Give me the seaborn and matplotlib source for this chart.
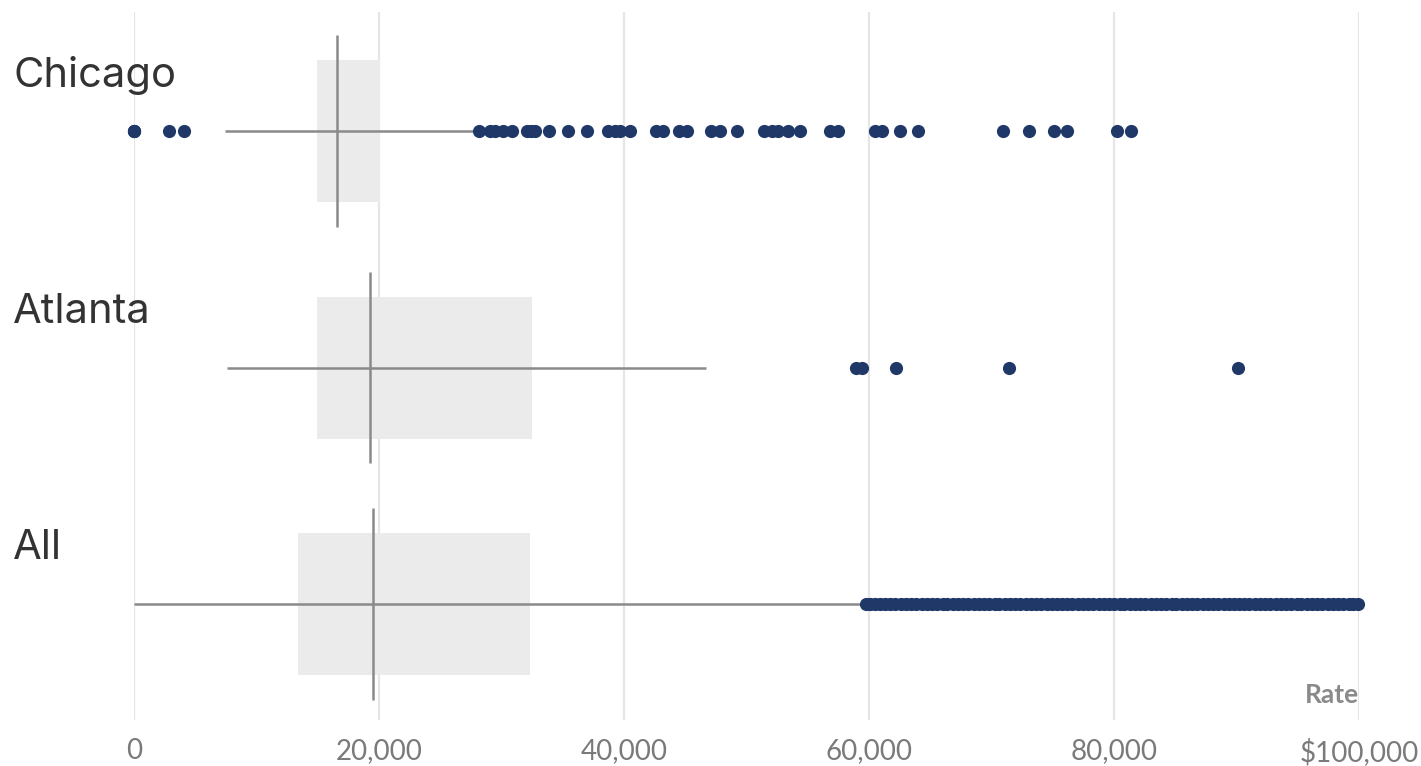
import matplotlib
matplotlib.use("Agg")
import matplotlib.pyplot as plt
import matplotlib.transforms as mtransforms
import seaborn as sns
import pandas as pd

# Summary statistics per group (top to bottom)
groups = ["Chicago", "Atlanta", "All"]
q1 = [14900, 14900, 13400]
median = [16550, 19250, 19550]
q3 = [20100, 32500, 32300]
whisker_low = [7450, 7600, 0]
whisker_high = [27800, 46700, 59700]

# Outlying observations per group
chicago_outliers = [0, 0, 0, 2850, 4100, 28150, 29100, 29450, 30150, 30850, 32050,
                    32400, 32750, 33900, 35450, 36950, 38700, 39250, 39650, 40500,
                    42650, 43200, 44450, 45150, 47100, 47800, 49250, 51450, 52050,
                    52600, 53350, 54400, 56800, 57500, 60450, 61050, 62550, 64000,
                    70950, 73100, 75100, 76150, 80250, 81400]
atlanta_outliers = [58900, 59450, 62200, 71450, 90100]
all_outliers = [59750, 60100, 60450, 60900, 61300, 61750, 62150, 62600, 63000, 63450,
                63850, 64300, 64700, 65150, 65550, 66000, 66400, 66850, 67250, 67700,
                68100, 68550, 68950, 69400, 69800, 70250, 70650, 71100, 71500, 71950,
                72350, 72800, 73200, 73650, 74050, 74500, 74900, 75350, 75750, 76200,
                76600, 77050, 77450, 77900, 78300, 78750, 79150, 79600, 80000, 80450,
                80850, 81300, 81700, 82150, 82550, 83000, 83400, 83850, 84250, 84700,
                85100, 85550, 85950, 86400, 86800, 87250, 87650, 88100, 88500, 88950,
                89350, 89800, 90200, 90650, 91050, 91500, 91900, 92350, 92750, 93200,
                93600, 94050, 94450, 94900, 95300, 95750, 96150, 96600, 97000, 97450,
                97850, 98300, 98700, 99150, 99550, 99950]

tick_values = [0, 20000, 40000, 60000, 80000, 100000]
tick_labels = ["0", "20,000", "40,000", "60,000", "80,000", "$100,000"]

sns.set_theme(style="white")
plt.rcParams["font.family"] = ["Lato", "DejaVu Sans"]

W, H = 1421, 766
fig = plt.figure(figsize=(W / 100, H / 100), dpi=100)
ax = fig.add_axes([134 / W, 46 / H, (1359 - 134) / W, (754 - 46) / H])

box_color = "#ebebeb"
line_color = "#8a8a8a"
dot_color = "#1f3868"

ypos = list(range(len(groups)))

# grid lines behind everything
for t in tick_values:
    ax.axvline(t, color="#e6e6e6", lw=1.6, zorder=0)

# boxes, whiskers, medians
ax.barh(ypos, [b - a for a, b in zip(q1, q3)], left=q1, height=0.6,
        color=box_color, edgecolor="none", zorder=1)
ax.hlines(ypos, whisker_low, whisker_high, color=line_color, lw=1.8, zorder=2)
ax.vlines(median, [y - 0.405 for y in ypos], [y + 0.405 for y in ypos],
          color=line_color, lw=1.8, zorder=2)

# outlier dots
rows = []
for g, vals in zip(groups, [chicago_outliers, atlanta_outliers, all_outliers]):
    rows += [(g, v, groups.index(g)) for v in vals]
df = pd.DataFrame(rows, columns=["group", "rate", "pos"])
sns.scatterplot(data=df, x="rate", y="pos", ax=ax, color=dot_color, s=90,
                linewidth=0, alpha=1, zorder=3, legend=False, clip_on=False)

ax.set_xlim(0, 100000)
ax.set_ylim(2.49, -0.503)

# group labels in the left margin
trans = mtransforms.blended_transform_factory(fig.transFigure, ax.transData)
for g, y in zip(groups, ypos):
    ax.text(13 / W, y - 0.235, g, transform=trans, fontsize=30, color="#333333",
            ha="left", va="center", family=["Inter", "Lato", "DejaVu Sans"])

ax.set_xticks(tick_values)
ax.set_xticklabels(tick_labels)
ax.set_yticks([])
ax.tick_params(axis="x", length=0, pad=13, labelsize=20, labelcolor="#7a7a7a")
ax.set_xlabel("")
ax.set_ylabel("")
for s in ax.spines.values():
    s.set_visible(False)

ax.text(100000, 2.42, "Rate", ha="right", va="baseline", fontsize=19,
        fontweight="bold", color="#8a8a8a")

fig.savefig("out.png", dpi=100)
